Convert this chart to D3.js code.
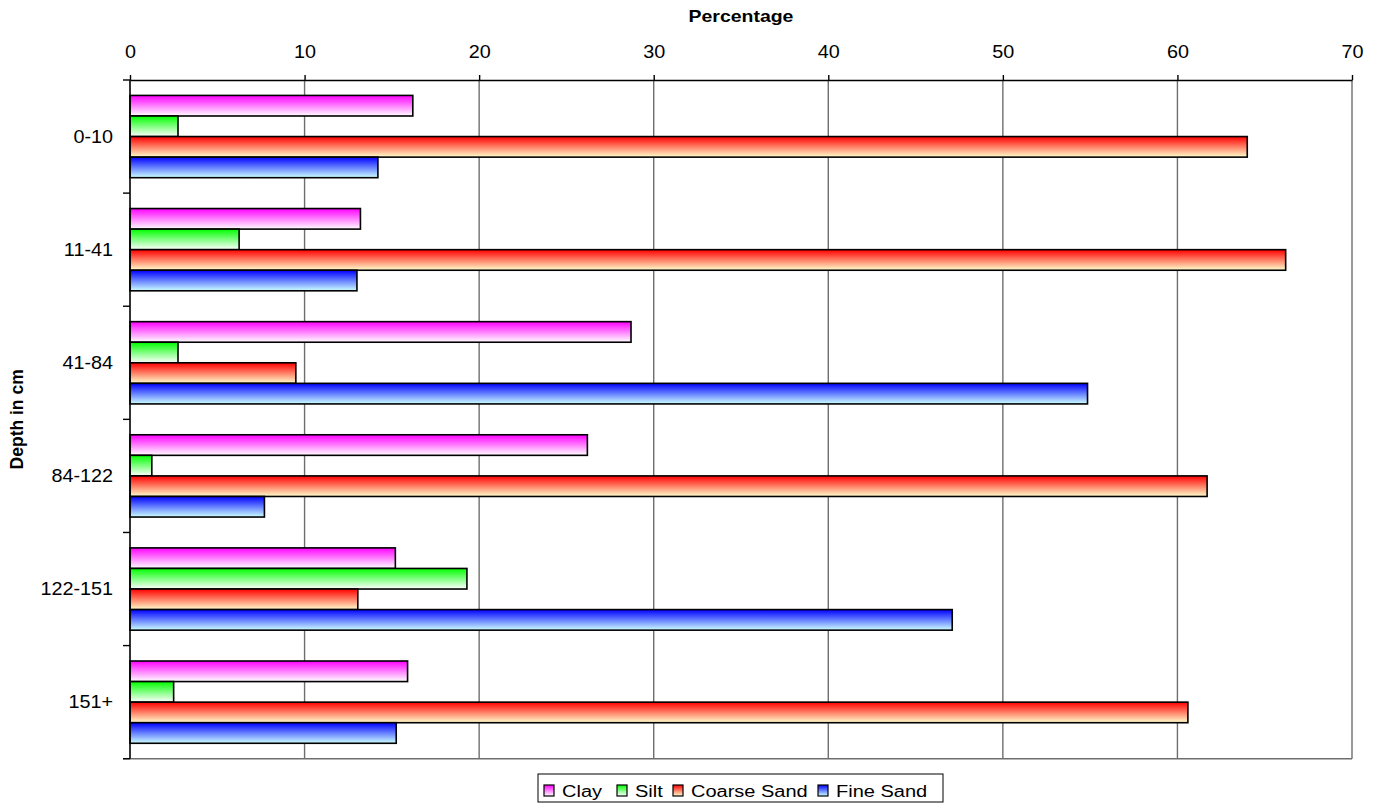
<!DOCTYPE html>
<html>
<head>
<meta charset="utf-8">
<script src="https://cdn.jsdelivr.net/npm/d3@7"></script>
<style>
  html, body { margin: 0; padding: 0; background: #fff; }
  svg { display: block; font-family: "Liberation Sans", Arial, sans-serif; }
</style>
</head>
<body>
<svg id="chart" width="1383" height="803"></svg>
<script>
// Soil texture by depth (percentage of each fraction)
const depths = ["0-10", "11-41", "41-84", "84-122", "122-151", "151+"];
const seriesNames = ["Clay", "Silt", "Coarse Sand", "Fine Sand"];
const clay = [16.2, 13.2, 28.7, 26.2, 15.2, 15.9];
const silt = [2.75, 6.25, 2.75, 1.25, 19.3, 2.5];
const coarseSand = [64.0, 66.2, 9.5, 61.7, 13.05, 60.6];
const fineSand = [14.2, 13.0, 54.85, 7.7, 47.1, 15.25];
const xTicks = [0, 10, 20, 30, 40, 50, 60, 70];

// top / bottom colours of each bar's vertical gradient
const gradTop = ["#ff00ff", "#00ff00", "#ff0000", "#0000ff"];
const gradBottom = ["#ffffff", "#ffffff", "#ffffcc", "#ccffff"];

const seriesValues = [clay, silt, coarseSand, fineSand];
const rows = [];
depths.forEach((d, i) => {
  seriesNames.forEach((s, j) => rows.push({ depth: d, series: s, idx: j, value: seriesValues[j][i] }));
});

const svg = d3.select("#chart");
const plotLeft = 130, plotRight = 1352, plotTop = 80, plotBottom = 758.7;

const x = d3.scaleLinear().domain([0, 70]).range([plotLeft, plotRight]);
const y0 = d3.scaleBand().domain(depths).range([plotTop, plotBottom]);
const y1 = d3.scaleBand().domain(seriesNames).range([0, y0.bandwidth()]).paddingOuter(0.75);

// gradients
const defs = svg.append("defs");
seriesNames.forEach((s, j) => {
  const g = defs.append("linearGradient").attr("id", "grad" + j)
    .attr("x1", 0).attr("y1", 0).attr("x2", 0).attr("y2", 1);
  g.append("stop").attr("offset", "0%").attr("stop-color", gradTop[j]);
  g.append("stop").attr("offset", "100%").attr("stop-color", gradBottom[j]);
});

// vertical gridlines
svg.append("g").selectAll("line").data(xTicks.slice(1)).join("line")
  .attr("x1", d => x(d)).attr("x2", d => x(d))
  .attr("y1", plotTop).attr("y2", plotBottom)
  .attr("stroke", "#6e6e6e").attr("stroke-width", 1.4);

// bottom border of the plot
svg.append("line").attr("x1", plotLeft - 7).attr("x2", plotRight)
  .attr("y1", plotBottom).attr("y2", plotBottom)
  .attr("stroke", "#6e6e6e").attr("stroke-width", 1.4);

// bars
svg.append("g").selectAll("rect").data(rows).join("rect")
  .attr("x", x(0))
  .attr("y", d => y0(d.depth) + y1(d.series))
  .attr("width", d => x(d.value) - x(0))
  .attr("height", y1.bandwidth())
  .attr("fill", d => "url(#grad" + d.idx + ")")
  .attr("stroke", "#000").attr("stroke-width", 1.6);

// top value axis
const xAxis = svg.append("g").attr("transform", `translate(0,${plotTop})`)
  .call(d3.axisTop(x).tickValues(xTicks).tickSize(5).tickPadding(17).tickSizeOuter(0));
xAxis.select(".domain").attr("stroke", "#000").attr("stroke-width", 1.4);
xAxis.selectAll(".tick line").attr("stroke", "#000").attr("stroke-width", 1.4);
xAxis.selectAll(".tick text")
  .attr("font-size", 18).attr("fill", "#000")
  .attr("font-family", "Liberation Sans, Arial, sans-serif")
  .attr("transform", "scale(1.1,1)").attr("x", 0);

// left category axis line, boundary ticks and labels
svg.append("line").attr("x1", plotLeft).attr("x2", plotLeft).attr("y1", plotTop).attr("y2", plotBottom)
  .attr("stroke", "#000").attr("stroke-width", 1.6);
const bounds = depths.map(d => y0(d)).concat([plotBottom]);
svg.append("g").selectAll("line").data(bounds).join("line")
  .attr("x1", plotLeft - 7).attr("x2", plotLeft).attr("y1", d => d).attr("y2", d => d)
  .attr("stroke", "#000").attr("stroke-width", 1.4);
svg.append("g").selectAll("text").data(depths).join("text")
  .attr("transform", d => `translate(${plotLeft - 17},${y0(d) + y0.bandwidth() / 2}) scale(1.1,1)`)
  .attr("text-anchor", "end").attr("dy", "0.35em")
  .attr("font-size", 18).attr("fill", "#000")
  .text(d => d);

// axis titles
svg.append("text")
  .attr("transform", `translate(${(plotLeft + plotRight) / 2},22) scale(1.18,1)`)
  .attr("text-anchor", "middle").attr("font-weight", "bold").attr("font-size", 16.5)
  .text("Percentage");
svg.append("text")
  .attr("transform", `translate(23,${(plotTop + plotBottom) / 2}) rotate(-90)`)
  .attr("text-anchor", "middle").attr("font-weight", "bold").attr("font-size", 17.5)
  .text("Depth in cm");

// legend
const legend = svg.append("g");
legend.append("rect").attr("x", 538).attr("y", 774).attr("width", 405).attr("height", 28)
  .attr("fill", "#fff").attr("stroke", "#000").attr("stroke-width", 1);
const legendX = [544, 617, 673, 818];
seriesNames.forEach((s, j) => {
  legend.append("rect").attr("x", legendX[j]).attr("y", 785).attr("width", 10).attr("height", 11)
    .attr("fill", "url(#grad" + j + ")").attr("stroke", "#000").attr("stroke-width", 1.2);
  legend.append("text")
    .attr("transform", `translate(${legendX[j] + 18},797) scale(1.25,1)`)
    .attr("font-size", 16).attr("fill", "#000")
    .text(s);
});
</script>
</body>
</html>
